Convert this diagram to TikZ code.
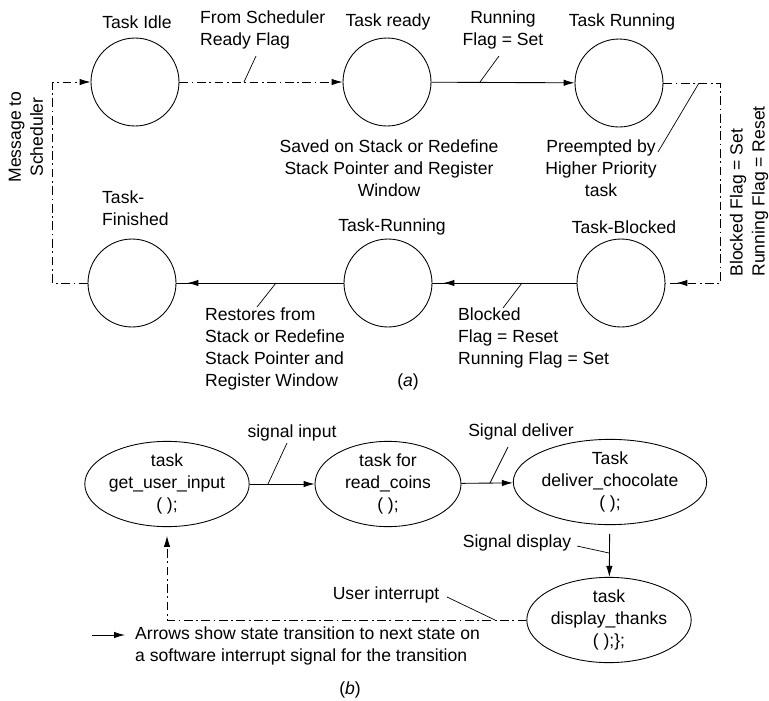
\documentclass[tikz,border=0pt]{standalone}
\usepackage{fontspec}
\setmainfont{Liberation Sans}
\usetikzlibrary{shapes.geometric, arrows.meta, decorations.markings}

\begin{document}
\begin{tikzpicture}[x=0.02cm, y=-0.02cm, line width=0.5pt,
  state/.style={circle, draw, minimum size=1.76cm, inner sep=0pt},
  task/.style={ellipse, draw, inner sep=0pt, minimum height=1.55cm, align=center,
    font=\fontsize{10}{12.5}\selectfont},
  lbl/.style={font=\fontsize{10}{12.5}\selectfont, align=center, inner sep=1pt},
  flow/.style={-{Latex[length=2.2mm,width=1.3mm]}},
  dashdot/.style={dash pattern=on 5pt off 2pt on 1pt off 2pt},
  tipnear/.style={postaction=decorate, decoration={markings,
    mark=at position -2.2mm with {\arrow{Latex[length=2.2mm,width=1.3mm]}}}},
  leader/.style={line width=0.4pt}]
  \useasboundingbox (0,0) rectangle (769,701);

  % (a) task states
  \node[state] (idle) at (135,82) {};
  \node[state] (ready) at (387,82) {};
  \node[state] (run) at (619,83) {};
  \node[state] (fin) at (132,283) {};
  \node[state] (run2) at (388,283) {};
  \node[state] (blk) at (621,283) {};

  \node[lbl] (idlelbl) at (137,22) {Task Idle};
  \node[lbl] (readylbl) at (388,22) {Task ready};
  \node[lbl] (runlbl) at (622,22) {Task Running};
  \node[lbl, anchor=west, align=left] (finlbl) at (100,208) {Task-\\Finished};
  \node[lbl] (run2lbl) at (392,227) {Task-Running};
  \node[lbl] (blklbl) at (624,227) {Task-Blocked};

  \node[lbl, anchor=west, align=left] (fromlbl) at (198,30) {From Scheduler\\Ready Flag};
  \node[lbl] (runflag) at (503,30) {Running\\Flag = Set};
  \node[lbl] (saved) at (389,168) {Saved on Stack or Redefine\\Stack Pointer and Register\\Window};
  \node[lbl] (preempt) at (601,168) {Preempted by\\Higher Priority\\task};
  \node[lbl, rotate=90] (msg) at (26,137) {Message to\\Scheduler};
  \node[lbl, rotate=90, anchor=west, align=left, inner sep=0pt] (blkflag) at (749,277) {Blocked Flag = Set\\Running Flag = Reset};
  \node[lbl, anchor=west, align=left] (blkreset) at (456,338) {Blocked\\Flag = Reset\\Running Flag = Set};
  \node[lbl, anchor=west, align=left] (restores) at (203,349) {Restores from\\Stack or Redefine\\Stack Pointer and\\Register Window};
  \node[lbl] (capa) at (408,382) {(\textit{a})};

  % (a) transitions
  \draw[flow, dashdot] (idle) -- (ready);
  \draw[flow] (ready) -- (run);
  \draw[dashdot, tipnear] (run.east) -- ++(57,0) |- (blk.east);
  \draw[tipnear] (blk) -- (run2);
  \draw[tipnear] (run2) -- (fin);
  \draw[flow, dashdot] (fin.west) -- ++(-35,0) |- (idle.west);

  % (a) leaders
  \coordinate (ldA1) at (244,82);  \coordinate (ldA2) at (256,56);
  \coordinate (ldB1) at (480,82);  \coordinate (ldB2) at (499,56);
  \coordinate (ldC1) at (699,83);  \coordinate (ldC2) at (658,152);
  \coordinate (ldD1) at (522,283); \coordinate (ldD2) at (503,308);
  \coordinate (ldE1) at (276,283); \coordinate (ldE2) at (257,307);
  \draw[leader] (ldA1) -- (ldA2);
  \draw[leader] (ldB1) -- (ldB2);
  \draw[leader] (ldC1) -- (ldC2);
  \draw[leader] (ldD1) -- (ldD2);
  \draw[leader] (ldE1) -- (ldE2);

  % (b) vending machine tasks
  \node[task, minimum width=3.18cm] (getin) at (167,484) {task\\get\_user\_input\\( );};
  \node[task, minimum width=2.92cm] (coins) at (388,484) {task for\\read\_coins\\( );};
  \node[task, minimum width=2.92cm, minimum height=1.62cm] (choc) at (610,482) {Task\\deliver\_chocolate\\( );};
  \node[task, minimum width=2.96cm, minimum height=1.6cm] (thanks) at (609,620) {task\\display\_thanks\\( );\};};

  \node[lbl] (sigin) at (292,433) {signal input};
  \node[lbl] (sigdel) at (521,432) {Signal deliver};
  \node[lbl] (sigdisp) at (517,543) {Signal display};
  \node[lbl] (usrint) at (386,595) {User interrupt};
  \node[lbl, anchor=west, align=left] (legend) at (133,646) {Arrows show state transition to next state on\\a software interrupt signal for the transition};
  \node[lbl] (capb) at (350,690) {(\textit{b})};

  % (b) transitions
  \draw[flow] (getin) -- (coins);
  \draw[flow] (coins) -- (choc);
  \draw[flow, shorten <=5pt] (choc) -- (thanks);
  \draw[flow, dashdot, shorten >=5pt] (thanks.west) -| (getin.south);

  % (b) leaders
  \coordinate (ldF1) at (268,484); \coordinate (ldF2) at (287,443);
  \coordinate (ldG1) at (490,483); \coordinate (ldG2) at (508,447);
  \coordinate (ldH1) at (609,553); \coordinate (ldH2) at (577,546);
  \coordinate (ldI1) at (495,620); \coordinate (ldI2) at (447,597);
  \draw[leader] (ldF1) -- (ldF2);
  \draw[leader] (ldG1) -- (ldG2);
  \draw[leader] (ldH1) -- (ldH2);
  \draw[leader] (ldI1) -- (ldI2);

  % legend arrow
  \coordinate (lgA) at (92,635);
  \coordinate (lgB) at (125,635);
  \draw[flow] (lgA) -- (lgB);
\end{tikzpicture}
\end{document}
